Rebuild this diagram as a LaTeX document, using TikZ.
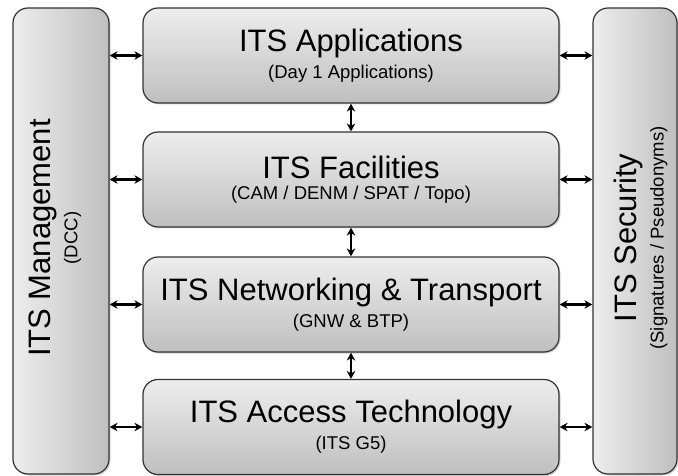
\documentclass[tikz,border=0pt]{standalone}
\usepackage{fontspec}
\setmainfont{Liberation Sans}
\usetikzlibrary{arrows.meta,shadows}
\definecolor{boxLight}{HTML}{EDEDED}
\definecolor{boxDark}{HTML}{BFBFBF}
\definecolor{boxDraw}{HTML}{333333}
\newcommand{\layertitle}{\fontsize{31}{35}\selectfont}
\newcommand{\layersub}{\fontsize{18.5}{21}\selectfont}

\begin{document}
\begin{tikzpicture}[x=1pt,y=-1pt,
  bx/.style={draw=boxDraw,line width=1.2pt,rounded corners=15pt,inner sep=0pt,
    drop shadow={shadow xshift=1.5pt,shadow yshift=-1.5pt,opacity=0.35}},
  layer/.style={bx,top color=boxLight,bottom color=boxDark,
    minimum width=416pt,minimum height=95pt,align=center},
  side/.style={bx,left color=boxLight,right color=boxDark,minimum height=466pt},
  sidetxt/.style={rotate=90,align=center},
  biarrow/.style={{Stealth[length=8pt,width=8.5pt]}-{Stealth[length=8pt,width=8.5pt]},line width=2.4pt},
]
\useasboundingbox (0,0) rectangle (678,476);

% ---- side columns -------------------------------------------------------
\node[side,minimum width=96pt] (Mgmt) at (61,241) {};
\node[side,minimum width=84pt] (Sec)  at (635,241) {};
\node[sidetxt] (MgmtT) at (55,238)
  {{\layertitle ITS Management}\\[6pt]{\layersub (DCC)}};
\node[sidetxt] (SecT) at (641,238)
  {{\layertitle ITS Security}\\[6pt]{\layersub (Signatures / Pseudonyms)}};

% ---- protocol stack -----------------------------------------------------
\foreach \n/\y/\t/\s in {1/55.5/{ITS Applications}/{(Day 1 Applications)},
                         2/179.5/{ITS Facilities}/{(CAM / DENM / SPAT / Topo)},
                         3/304.5/{ITS Networking \& Transport}/{(GNW \& BTP)},
                         4/427/{ITS Access Technology}/{(ITS G5)}}
  \node[layer] (L\n) at (351,\y) {{\layertitle \t}\\[6pt]{\layersub \s}};

% ---- arrows -------------------------------------------------------------
\foreach \a/\b in {1/2,2/3,3/4}
  \draw[biarrow] (L\a.south) -- (L\b.north);
\foreach \n in {1,2,3,4}{
  \draw[biarrow] (Mgmt.east |- L\n.west) -- (L\n.west);
  \draw[biarrow] (L\n.east) -- (Sec.west |- L\n.east);
}

\end{tikzpicture}
\end{document}
